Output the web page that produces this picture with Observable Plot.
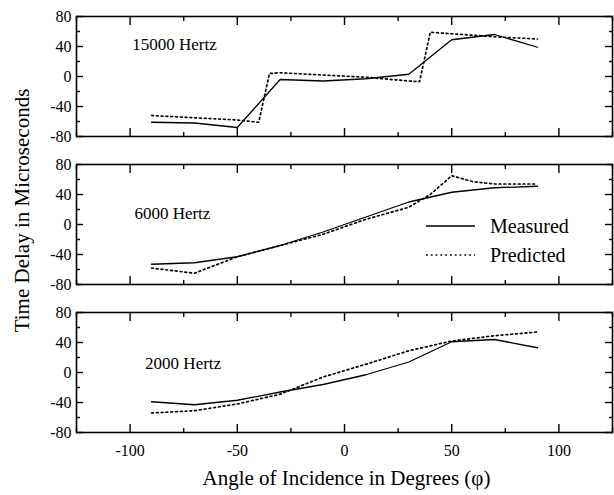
<!DOCTYPE html>
<html><head><meta charset="utf-8">
<script src="https://cdn.jsdelivr.net/npm/d3@7"></script>
<script src="https://cdn.jsdelivr.net/npm/@observablehq/plot@0.6"></script>
<style>
body{margin:0;background:#fff;}
#wrap{position:relative;width:614px;height:495px;font-family:"Liberation Serif","Times New Roman",serif;}
#legend{position:absolute;left:422px;top:212px;}
</style></head><body><div id="wrap"></div>
<script>
// ---- data ----
const panels = ["15000 Hertz", "6000 Hertz", "2000 Hertz"];
const seriesNames = ["Measured", "Predicted"];

const measuredAngles = [-90, -70, -50, -30, -10, 10, 30, 50, 70, 90];
const measured15000 = [-61, -62, -68, -4, -6, -3, 3, 49, 56, 39];
const measured6000  = [-53, -51, -43, -28, -10, 10, 30, 43, 49, 51];
const measured2000  = [-39, -43, -37, -26, -16, -3, 14, 41, 44, 33];

const predictedAngles15000 = [-90, -70, -50, -40, -35, -30, -10, 10, 30, 35, 40, 50, 70, 90];
const predicted15000       = [-52, -55, -58, -61, 4, 5, 2, -1, -6, -7, 59, 57, 53, 50];
const predictedAngles6000  = [-90, -70, -50, -30, -10, 10, 30, 40, 50, 60, 70, 90];
const predicted6000        = [-58, -65, -43, -28, -13, 7, 23, 40, 65, 57, 54, 54];
const predictedAngles2000  = [-90, -70, -50, -30, -10, 10, 30, 50, 70, 90];
const predicted2000        = [-54, -51, -42, -29, -6, 11, 29, 42, 49, 54];

const xTickLabels = [-100, -50, 0, 50, 100];
const xMinor = [-125, -75, -25, 25, 75, 125];
const yTickLabels = [-80, -40, 0, 40, 80];
const yMinor = [-60, -20, 20, 60];

// ---- build tables ----
const measuredTable = [
  ...measuredAngles.map((a, i) => ({panel: panels[0], angle: a, delay: measured15000[i]})),
  ...measuredAngles.map((a, i) => ({panel: panels[1], angle: a, delay: measured6000[i]})),
  ...measuredAngles.map((a, i) => ({panel: panels[2], angle: a, delay: measured2000[i]}))
];
const predictedTable = [
  ...predictedAngles15000.map((a, i) => ({panel: panels[0], angle: a, delay: predicted15000[i]})),
  ...predictedAngles6000.map((a, i) => ({panel: panels[1], angle: a, delay: predicted6000[i]})),
  ...predictedAngles2000.map((a, i) => ({panel: panels[2], angle: a, delay: predicted2000[i]}))
];

// label anchors (layout, in data units)
const labelPos = [[-99, 43], [-98, 15], [-93, 12]];
const panelLabels = panels.map((p, i) => ({panel: p, x: labelPos[i][0], y: labelPos[i][1]}));

const font = "Liberation Serif, Times New Roman, serif";
const fmt = d => String(d);

const chart = Plot.plot({
  width: 614, height: 495,
  marginLeft: 76, marginRight: 2, marginTop: 15, marginBottom: 62,
  style: {fontFamily: font, color: "black", background: "white"},
  x: {domain: [-125, 125]},
  y: {domain: [-80, 80]},
  fy: {domain: panels, axis: null, paddingInner: 0.19, paddingOuter: 0},
  marks: [
    Plot.frame({stroke: "black", strokeWidth: 1.6}),
    // inward ticks
    Plot.axisX(xTickLabels, {anchor: "bottom", tickSize: -8, fill: "none", facetAnchor: null, strokeWidth: 1.4}),
    Plot.axisX(xTickLabels, {anchor: "top", tickSize: -8, fill: "none", facetAnchor: null, strokeWidth: 1.4}),
    Plot.axisX(xMinor, {anchor: "bottom", tickSize: -4, fill: "none", facetAnchor: null, strokeWidth: 1.4}),
    Plot.axisX(xMinor, {anchor: "top", tickSize: -4, fill: "none", facetAnchor: null, strokeWidth: 1.4}),
    Plot.axisY(yTickLabels, {anchor: "left", tickSize: -7, fill: "none", strokeWidth: 1.4}),
    Plot.axisY(yTickLabels, {anchor: "right", tickSize: -8, fill: "none", strokeWidth: 1.4}),
    Plot.axisY(yMinor, {anchor: "left", tickSize: -4, fill: "none", strokeWidth: 1.4}),
    Plot.axisY(yMinor, {anchor: "right", tickSize: -4, fill: "none", strokeWidth: 1.4}),
    // tick labels
    Plot.axisY(yTickLabels, {anchor: "left", tickSize: 0, tickPadding: 5, fontSize: 16, label: null, tickFormat: fmt}),
    Plot.axisX(xTickLabels, {anchor: "bottom", tickSize: 0, tickPadding: 12, fontSize: 16, label: null, tickFormat: fmt}),
    // data
    Plot.line(measuredTable, {x: "angle", y: "delay", fy: "panel", stroke: "black", strokeWidth: 1.3}),
    Plot.line(predictedTable, {x: "angle", y: "delay", fy: "panel", stroke: "black", strokeWidth: 1.7, strokeDasharray: "1.8,3"}),
    // panel labels
    Plot.text(panelLabels, {x: "x", y: "y", fy: "panel", text: "panel", textAnchor: "start", fontSize: 17}),
    // axis titles
    Plot.text([{panel: panels[1], t: "Time Delay in Microseconds", y: 0}], {fy: "panel", y: "y", text: "t", frameAnchor: "left", textAnchor: "middle", lineAnchor: "middle", rotate: -90, dx: -54, dy: -14, fontSize: 21}),
    Plot.text([{panel: panels[2], t: "Angle of Incidence in Degrees (\u03C6)"}], {fy: "panel", text: "t", frameAnchor: "bottom", dx: 2, dy: 52, fontSize: 21})
  ]
});
const wrap = document.getElementById("wrap");
wrap.appendChild(chart);

// legend
const legend = document.createElementNS("http://www.w3.org/2000/svg", "svg");
legend.setAttribute("id", "legend");
legend.setAttribute("width", 170);
legend.setAttribute("height", 60);
const styles = [{dash: null, w: 1.3}, {dash: "1.8,3", w: 1.7}];
seriesNames.forEach((name, i) => {
  const y = 14 + i * 29;
  const l = document.createElementNS("http://www.w3.org/2000/svg", "line");
  l.setAttribute("x1", 4); l.setAttribute("x2", 53);
  l.setAttribute("y1", y); l.setAttribute("y2", y);
  l.setAttribute("stroke", "black"); l.setAttribute("stroke-width", styles[i].w);
  if (styles[i].dash) l.setAttribute("stroke-dasharray", styles[i].dash);
  legend.appendChild(l);
  const t = document.createElementNS("http://www.w3.org/2000/svg", "text");
  t.setAttribute("x", 68); t.setAttribute("y", y);
  t.setAttribute("dominant-baseline", "central");
  t.setAttribute("font-size", 20);
  t.setAttribute("font-family", font);
  t.textContent = name;
  legend.appendChild(t);
});
wrap.appendChild(legend);
</script></body></html>
